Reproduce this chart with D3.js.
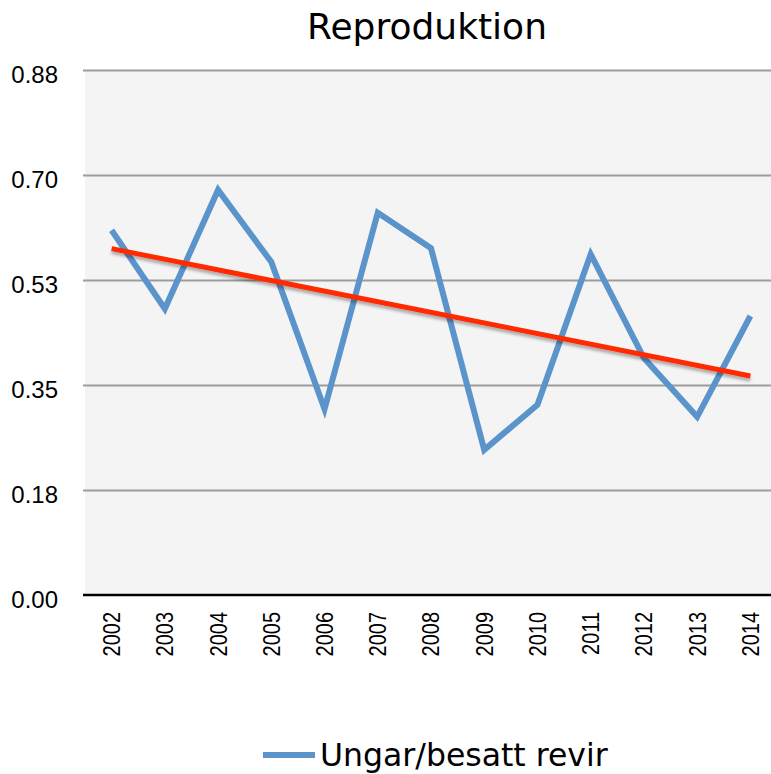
<!DOCTYPE html>
<html>
<head>
<meta charset="utf-8">
<script src="https://cdn.jsdelivr.net/npm/d3@7"></script>
<style>
  body { margin: 0; background: #fff; }
  svg { display: block; }
</style>
</head>
<body>
<div id="chart"></div>
<script>
// data
const years = ["2002", "2003", "2004", "2005", "2006", "2007", "2008", "2009", "2010", "2011", "2012", "2013", "2014"];
const ungar = [0.608, 0.477, 0.675, 0.555, 0.310, 0.637, 0.578, 0.242, 0.317, 0.568, 0.395, 0.297, 0.465];
const yTicks = [0, 0.175, 0.35, 0.525, 0.70, 0.875];
const yTickLabels = ["0.00", "0.18", "0.35", "0.53", "0.70", "0.88"];
const seriesName = "Ungar/besatt revir";
const title = "Reproduktion";

let w = 771, h = 774;
let m = { top: 70, right: -6, bottom: 179, left: 85 };

let svg = d3.select("#chart").append("svg")
    .attr("width", w).attr("height", h);

let defs = svg.append("defs");
let f = defs.append("filter").attr("id", "shadow")
    .attr("x", "-5%").attr("y", "-50%").attr("width", "110%").attr("height", "300%");
f.append("feDropShadow").attr("dx", 0).attr("dy", 3).attr("stdDeviation", 1.4)
    .attr("flood-color", "#000").attr("flood-opacity", 0.3);

let xS = d3.scaleBand().domain(years).range([m.left, w - m.right]);
let yS = d3.scaleLinear().domain([0, 0.875]).range([h - m.bottom, m.top]);
let xc = d => xS(d) + xS.bandwidth() / 2;

// plot background
svg.append("rect")
    .attr("x", m.left).attr("y", yS(0.875))
    .attr("width", w - m.left).attr("height", yS(0) - yS(0.875))
    .attr("fill", "#f4f4f4");

// gridlines + y labels
let yAx = svg.append("g")
    .attr("transform", `translate(${m.left},0)`)
    .call(d3.axisLeft(yS).tickValues(yTicks).tickSize(-(w - m.left)).tickPadding(27)
        .tickFormat((d, i) => yTickLabels[i]));
yAx.select(".domain").remove();
yAx.selectAll(".tick line").attr("stroke", "#9c9c9c").attr("stroke-width", 2)
    .attr("x1", -2);
yAx.selectAll(".tick text")
    .attr("font-family", "'Liberation Sans', Arial, sans-serif")
    .attr("font-size", 24).attr("fill", "#000")
    .attr("dy", null).attr("y", 12);
yAx.selectAll(".tick").filter(d => d === 0).select("line").remove();

// x axis
let xAx = svg.append("g")
    .attr("transform", `translate(0,${yS(0)})`)
    .call(d3.axisBottom(xS).tickSize(0).tickSizeOuter(0));
xAx.select(".domain").attr("stroke", "#000").attr("stroke-width", 2.5)
    .attr("d", `M${m.left - 2},0H${w}`);
xAx.selectAll(".tick text")
    .attr("font-family", "'Liberation Sans', Arial, sans-serif")
    .attr("font-size", 20).attr("fill", "#000")
    .attr("text-anchor", "end")
    .attr("transform", "rotate(-90) scale(1,1.18)")
    .attr("x", -17).attr("y", 0).attr("dy", "0.36em");

// series line
let line = d3.line().x((d, i) => xc(years[i])).y(d => yS(d));
svg.append("path")
    .datum(ungar)
    .attr("d", line)
    .attr("fill", "none")
    .attr("stroke", "#5b93cb")
    .attr("stroke-width", 6)
    .attr("stroke-linejoin", "miter");

// linear trend fitted to the series
let xs = ungar.map((d, i) => i);
let mx = d3.mean(xs), my = d3.mean(ungar);
let slope = d3.sum(xs, (x, i) => (x - mx) * (ungar[i] - my)) / d3.sum(xs, x => (x - mx) * (x - mx));
let icpt = my - slope * mx;
let trend = [0, years.length - 1].map(i => ({ yr: years[i], v: icpt + slope * i }));
svg.append("path")
    .datum(trend)
    .attr("d", d3.line().x(d => xc(d.yr)).y(d => yS(d.v)))
    .attr("fill", "none")
    .attr("stroke", "#ff2a00")
    .attr("stroke-width", 5)
    .attr("filter", "url(#shadow)");

// title
svg.append("text")
    .attr("x", 427).attr("y", 39)
    .attr("text-anchor", "middle")
    .attr("font-family", "'DejaVu Sans', Verdana, sans-serif")
    .attr("font-size", 36)
    .text(title);

// legend
let lg = svg.append("g");
lg.append("line")
    .attr("x1", 263).attr("x2", 315).attr("y1", 755).attr("y2", 755)
    .attr("stroke", "#5b93cb").attr("stroke-width", 6);
lg.append("text")
    .attr("x", 320).attr("y", 766)
    .attr("font-family", "'DejaVu Sans', Verdana, sans-serif")
    .attr("font-size", 31.5)
    .text(seriesName);
</script>
</body>
</html>
